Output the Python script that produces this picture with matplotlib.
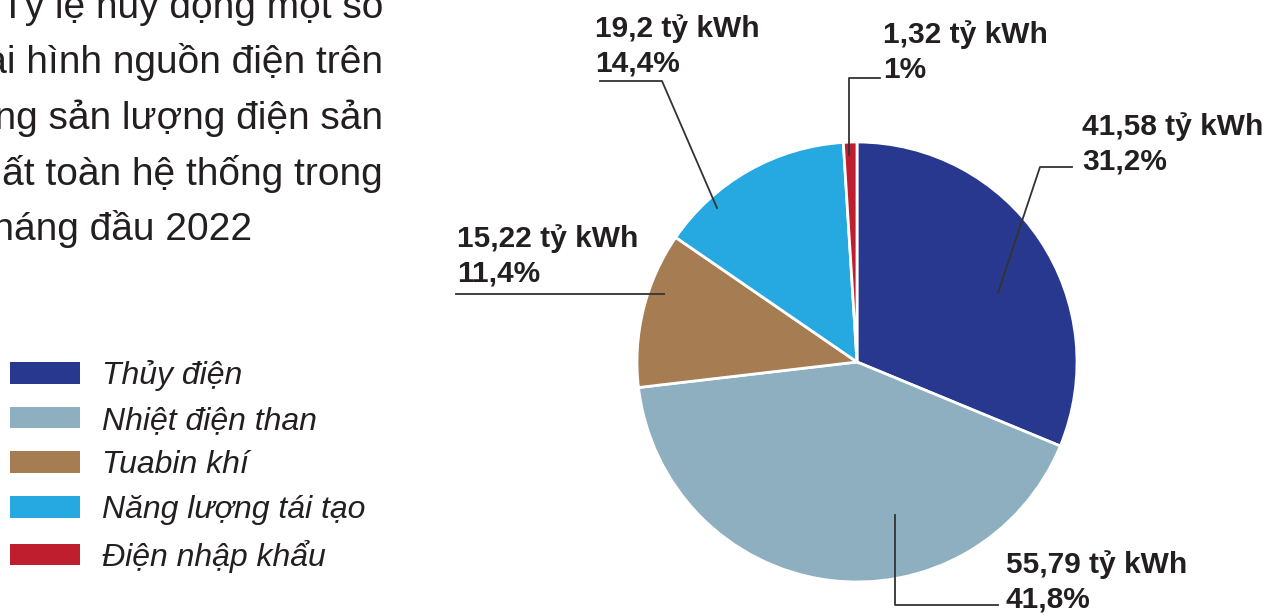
import matplotlib
matplotlib.use("Agg")
import matplotlib.pyplot as plt
from matplotlib.patches import Patch

plt.rcParams['font.family'] = ['Liberation Sans', 'DejaVu Sans']

# du lieu
nguon = ['Thủy điện', 'Nhiệt điện than', 'Tuabin khí', 'Năng lượng tái tạo', 'Điện nhập khẩu']
san_luong = [41.58, 55.79, 15.22, 19.2, 1.32]
nhan_gt = ['41,58 tỷ kWh', '55,79 tỷ kWh', '15,22 tỷ kWh', '19,2 tỷ kWh', '1,32 tỷ kWh']
nhan_pt = ['31,2%', '41,8%', '11,4%', '14,4%', '1%']
mau = ['#29388f', '#8dafc0', '#a67c52', '#25a9e0', '#be1e2d']

tieu_de = ['Tỷ lệ huy động một số', 'loại hình nguồn điện trên', 'tổng sản lượng điện sản',
           'xuất toàn hệ thống trong', '6 tháng đầu 2022']

W, H = 1283, 615
fig = plt.figure(figsize=(W / 100, H / 100), dpi=100, facecolor='white')
ax = fig.add_axes([0, 0, 1, 1])


def py(y):  # toa do pixel (tu tren xuong) -> toa do truc
    return H - y


ax.pie(san_luong, colors=mau, startangle=90, counterclock=False,
       center=(857, py(362)), radius=220,
       wedgeprops=dict(edgecolor='white', linewidth=2))
ax.set_xlim(0, W)
ax.set_ylim(0, H)
ax.set_aspect('equal')
ax.axis('off')

# tieu de (bi cat o mep trai, giong anh goc)
tx = [383, 383, 383, 383, 252]
ty = [18, 73, 129, 185, 240]
for s, x, y in zip(tieu_de, tx, ty):
    ax.text(x, py(y), s, ha='right', va='baseline', fontsize=28, color='#231f20')

# nhan va duong dan
nhan_xy = [(1082, 135), (1006, 573), (457, 247), (595, 37), (883, 43)]
duong = [
    [(998, 293), (1040, 167), (1072, 167)],
    [(895, 515), (895, 605), (998, 605)],
    [(664, 294), (456, 294)],
    [(717, 208), (662, 81), (600, 81)],
    [(849, 155), (849, 78), (880, 78)],
]
for (x, y), a, b, d in zip(nhan_xy, nhan_gt, nhan_pt, duong):
    ax.text(x, py(y), a, ha='left', va='baseline', fontsize=21.5, fontweight='bold', color='#231f20')
    ax.text(x, py(y + 35), b, ha='left', va='baseline', fontsize=21.5, fontweight='bold', color='#231f20')
    ax.plot([p[0] for p in d], [py(p[1]) for p in d], color='#333333', linewidth=1.3)

handles = [Patch(facecolor=c, edgecolor='none') for c in mau]
leg = ax.legend(handles, nguon, loc='upper left', bbox_to_anchor=(10 / W, 1 - 360 / H),
                frameon=False, prop=dict(size=23, style='italic'),
                handlelength=2.2, handleheight=0.66, handletextpad=0.69, labelspacing=0.46,
                borderpad=0, borderaxespad=0)
for t in leg.get_texts():
    t.set_color('#231f20')

fig.savefig('out.png', dpi=100, facecolor='white')
